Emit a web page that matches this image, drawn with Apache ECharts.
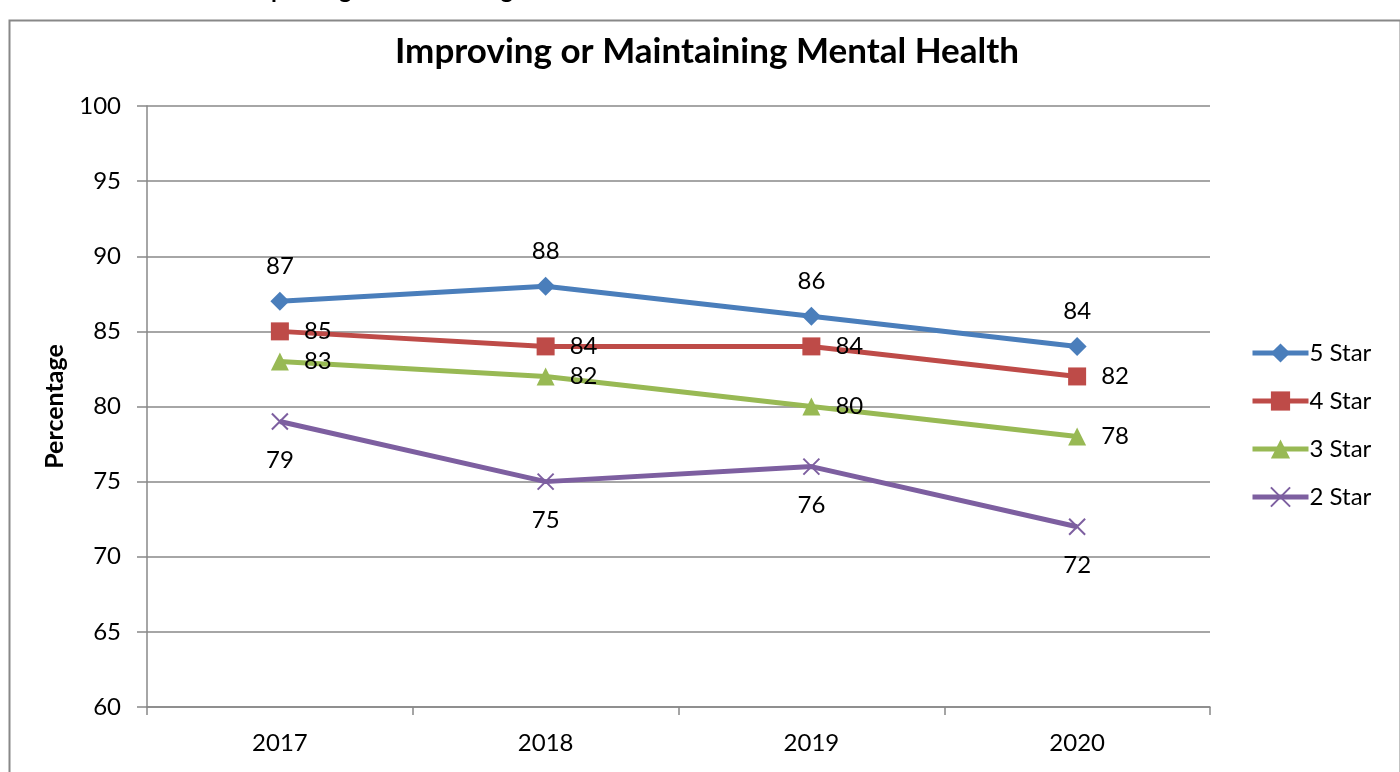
<!DOCTYPE html>
<html>
<head>
<meta charset="utf-8">
<script src="https://cdn.jsdelivr.net/npm/echarts@6/dist/echarts.min.js"></script>
<style>
html,body{margin:0;padding:0;background:#fff;}
#c{width:1400px;height:772px;}
</style>
</head>
<body>
<div id="c"></div>
<script>
const categories = ['2017', '2018', '2019', '2020'];
const star5 = [87, 88, 86, 84];
const star4 = [85, 84, 84, 82];
const star3 = [83, 82, 80, 78];
const star2 = [79, 75, 76, 72];
const seriesNames = ['5 Star', '4 Star', '3 Star', '2 Star'];
const yTicks = { min: 60, max: 100, interval: 5 };

const FONT = 'Lato, "Open Sans", sans-serif';
const colors = ['#4A7EBB', '#BE4B48', '#98B954', '#7D5FA0'];
const crossPath = 'path://M0,0L10,10M10,0L0,10';

function mk(name, data, color, symbol, size, labelPos, dist) {
  return {
    name, type: 'line', data,
    symbol, symbolSize: size,
    lineStyle: { color, width: 5 },
    itemStyle: symbol === crossPath
      ? { color: color, borderColor: color, borderWidth: 2 }
      : { color: color },
    label: { show: true, position: labelPos, distance: dist, color: '#000', fontSize: 24, fontFamily: FONT },
    z: 3
  };
}

const chart = echarts.init(document.getElementById('c'));
chart.setOption({
  animation: false,
  color: colors,
  title: {
    text: 'Improving or Maintaining Mental Health',
    left: 702, textAlign: 'center', top: 29,
    textStyle: { fontSize: 35, fontWeight: 'bold', fontFamily: FONT, color: '#000' }
  },
  graphic: [
    { type: 'rect', left: 7, top: 18, shape: { width: 1391, height: 770 }, style: { fill: 'none', stroke: '#888', lineWidth: 2 } },
    { type: 'text', left: 22, top: -22, style: { text: 'Measure  SOC:', fontSize: 24, fontWeight: 'bold', fontFamily: FONT, fill: '#000' } },
    { type: 'text', left: 244, top: -22, style: { text: 'Improving or Maintaining Mental Health', fontSize: 24, fontWeight: 'bold', fontFamily: FONT, fill: '#000' } }
  ],
  legend: {
    orient: 'vertical', left: 1250, top: 341, itemGap: 24, padding: 0,
    itemWidth: 56, itemHeight: 24,
    lineStyle: { width: 5 },
    textStyle: { fontSize: 24, fontFamily: FONT, color: '#000', padding: [0, 0, 0, -4] },
    data: seriesNames
  },
  grid: { left: 147, right: 190, top: 106, bottom: 65, containLabel: false },
  xAxis: {
    type: 'category', data: categories, boundaryGap: true,
    axisLine: { lineStyle: { color: '#888', width: 1.5 } },
    axisTick: { show: true, length: 8, lineStyle: { color: '#888', width: 1.5 } },
    axisLabel: { fontSize: 24, fontFamily: FONT, color: '#000', margin: 24 }
  },
  yAxis: {
    type: 'value', min: yTicks.min, max: yTicks.max, interval: yTicks.interval,
    name: 'Percentage', nameLocation: 'middle', nameGap: 80, nameRotate: 90,
    nameTextStyle: { fontSize: 25, fontWeight: 'bold', fontFamily: FONT, color: '#000' },
    axisLine: { show: true, lineStyle: { color: '#888', width: 1.5 } },
    axisTick: { show: true, length: 10, lineStyle: { color: '#888', width: 1.5 } },
    splitLine: { show: true, lineStyle: { color: '#888', width: 1.5 } },
    axisLabel: { fontSize: 24, fontFamily: FONT, color: '#000', margin: 26 }
  },
  series: [
    mk(seriesNames[0], star5, colors[0], 'diamond', 19, 'top', 14),
    mk(seriesNames[1], star4, colors[1], 'rect', 18, 'right', 15),
    mk(seriesNames[2], star3, colors[2], 'triangle', 18, 'right', 15),
    mk(seriesNames[3], star2, colors[3], crossPath, 16, 'bottom', 18)
  ]
});
</script>
</body>
</html>
